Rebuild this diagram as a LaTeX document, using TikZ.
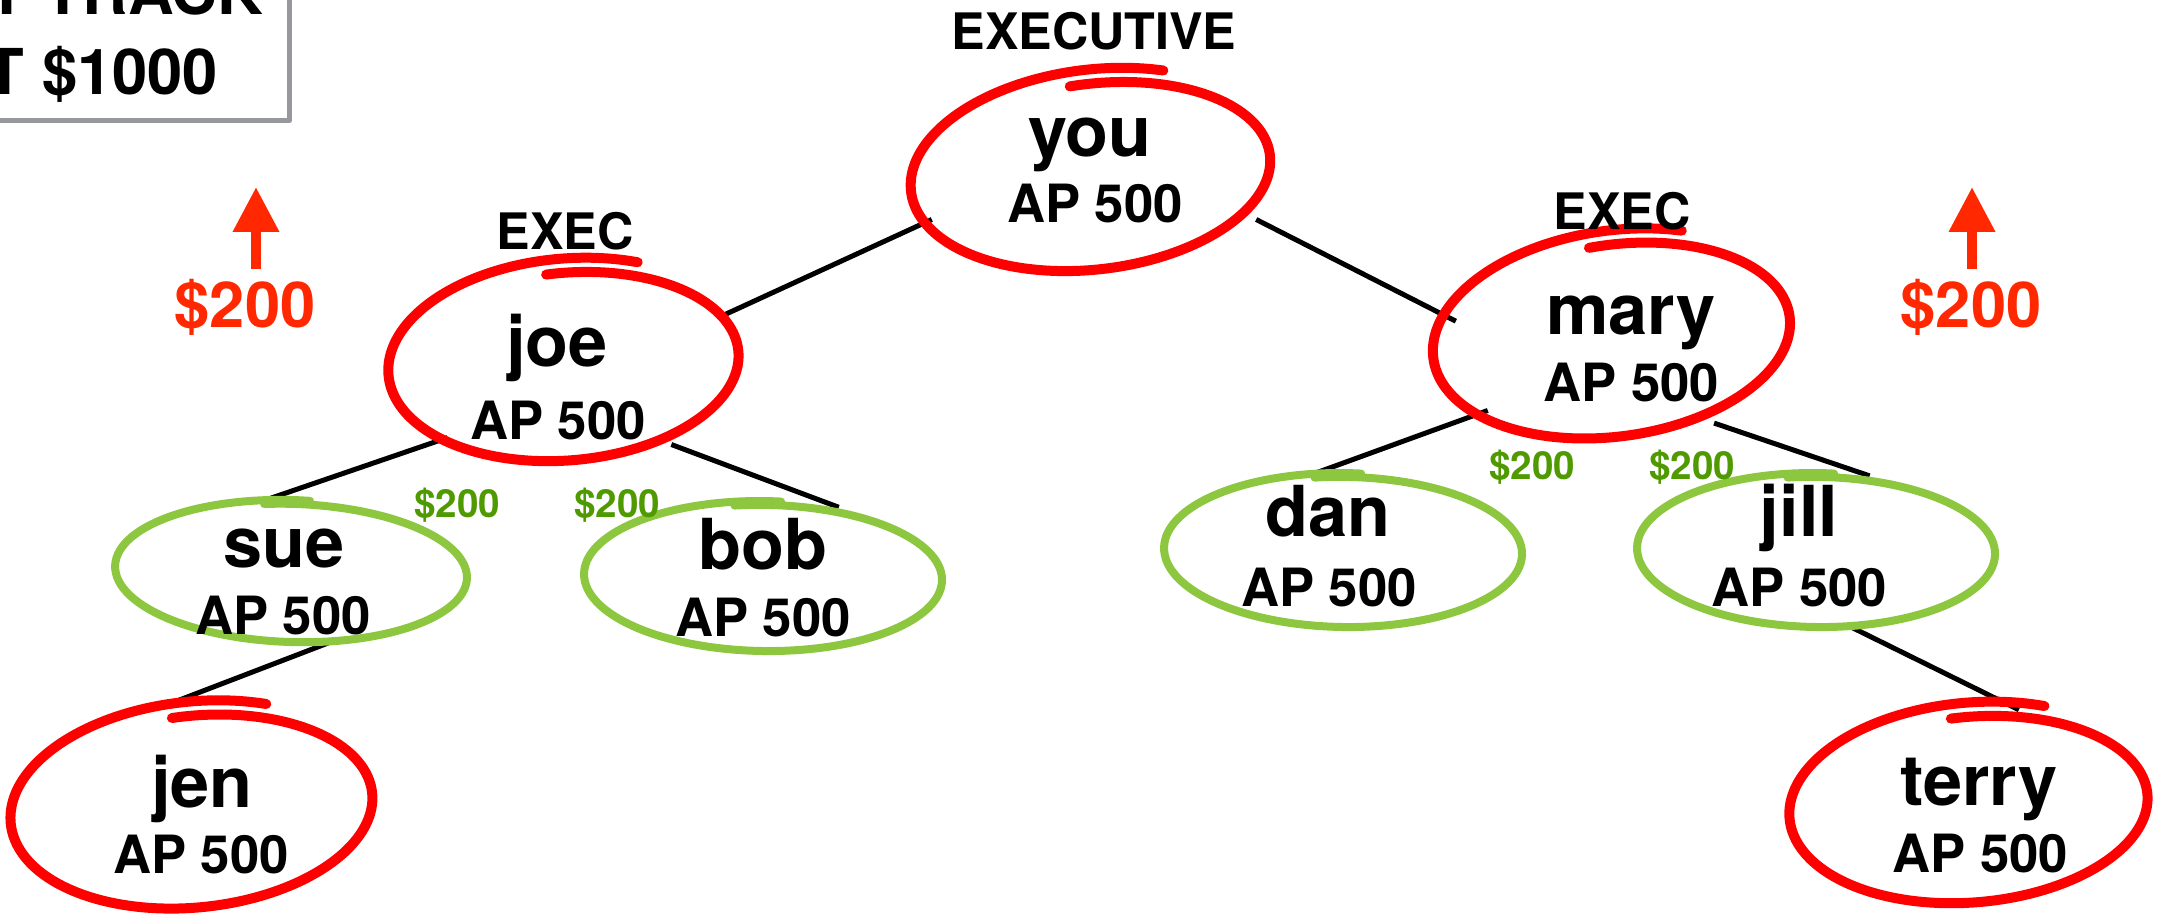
\documentclass[tikz,border=0pt]{standalone}
\usepackage{fontspec}
\setmainfont{TeX Gyre Heros}
\usetikzlibrary{shapes.geometric,arrows.meta}
\definecolor{ringred}{RGB}{255,0,0}
\definecolor{ringgreen}{RGB}{141,198,63}
\definecolor{cashgreen}{RGB}{78,154,0}
\definecolor{bonusred}{RGB}{255,40,0}
\definecolor{framegray}{RGB}{150,152,156}

\begin{document}
\begin{tikzpicture}[line join=round,line width=0.05cm,>=latex,
  spot/.style={ellipse,inner sep=0pt},
  who/.style={font=\fontsize{20}{24}\selectfont\bfseries,anchor=base,inner sep=0pt},
  ap/.style={font=\fontsize{15}{18}\selectfont\bfseries,anchor=base,inner sep=0pt},
  rank/.style={font=\fontsize{14.3}{17}\selectfont\bfseries,anchor=base,inner sep=0pt},
  gain/.style={font=\fontsize{11}{13}\selectfont\bfseries,text=cashgreen,anchor=base,inner sep=0pt},
  bonus/.style={font=\fontsize{18}{22}\selectfont\bfseries,text=bonusred,anchor=base,inner sep=0pt},
  goal/.style={font=\fontsize{18}{22}\selectfont\bfseries,anchor=base east,inner sep=0pt},
  redpen/.style={draw=ringred,line width=0.1cm,line cap=round},
  greenpen/.style={draw=ringgreen,line width=0.08cm,line cap=round}]
\useasboundingbox (0,0) rectangle (21.6,-9.22);
\clip (0,0) rectangle (21.6,-9.22);

% target box, cut by the page
\draw[framegray,line width=0.05cm,fill=white] (-0.5,0.5) rectangle (2.895,-1.205);
\node[goal] (track) at (2.655,-0.15) {T TRACK};
\node[goal] (cost) at (2.205,-0.95) {T \$1000};

% ring spots
\node[spot,minimum width=3.62cm,minimum height=1.94cm] (you) at (10.94,-1.73) {};
\node[spot,minimum width=3.52cm,minimum height=1.96cm] (joe) at (5.67,-3.63) {};
\node[spot,minimum width=3.60cm,minimum height=2.00cm] (mary) at (16.15,-3.37) {};
\node[spot,minimum width=3.52cm,minimum height=1.40cm] (sue) at (2.92,-5.72) {};
\node[spot,minimum width=3.58cm,minimum height=1.48cm] (bob) at (7.64,-5.77) {};
\node[spot,minimum width=3.58cm,minimum height=1.52cm] (dan) at (13.44,-5.51) {};
\node[spot,minimum width=3.58cm,minimum height=1.52cm] (jill) at (18.17,-5.51) {};
\node[spot,minimum width=3.64cm,minimum height=2.00cm] (jen) at (1.95,-8.08) {};
\node[spot,minimum width=3.60cm,minimum height=1.94cm] (terry) at (19.72,-8.06) {};

% tree
\draw (you.196) -- (joe.17);
\draw[shorten >=-0.2cm] (you.344) -- (mary.172);
\draw (joe.212) -- (sue.111);
\draw (joe.322) -- (bob.43);
\draw (mary.210) -- (dan.111);
\draw (mary.319) -- (jill.55);
\draw (sue.297) -- (jen.109);
\draw (jill.295) -- (terry.64);

% hand drawn rings
\foreach \n/\rx/\ry/\rot in {you/1.81/.97/6,joe/1.76/.98/4,mary/1.80/1.00/7,jen/1.82/1.00/5,terry/1.80/.97/4}
  \draw[redpen,shift={(\n.center)},rotate=\rot] plot[domain=95:-295,samples=120,smooth]
    ({(\rx-.08+.0004*(95-\x))*cos(\x)},{(\ry-.08+.0004*(95-\x))*sin(\x)});
\foreach \n/\rx/\ry/\rot in {sue/1.76/.70/-2,bob/1.79/.74/-1,dan/1.79/.76/-1,jill/1.79/.76/-1}
  \draw[greenpen,shift={(\n.center)},rotate=\rot] plot[domain=100:-275,samples=120,smooth]
    ({(\rx-.02+.0001*(100-\x))*cos(\x)},{(\ry-.02+.0001*(100-\x))*sin(\x)});

% names
\node[who] (you-n) at (10.90,-1.57) {you};
\node[ap] (you-ap) at (10.95,-2.23) {AP 500};
\node[who] (joe-n) at (5.57,-3.67) {joe};
\node[ap] (joe-ap) at (5.58,-4.40) {AP 500};
\node[who] (mary-n) at (16.31,-3.35) {mary};
\node[ap] (mary-ap) at (16.31,-4.02) {AP 500};
\node[who] (sue-n) at (2.84,-5.68) {sue};
\node[ap] (sue-ap) at (2.83,-6.35) {AP 500};
\node[who] (bob-n) at (7.63,-5.70) {bob};
\node[ap] (bob-ap) at (7.63,-6.37) {AP 500};
\node[who] (dan-n) at (13.28,-5.37) {dan};
\node[ap] (dan-ap) at (13.29,-6.07) {AP 500};
\node[who] (jill-n) at (17.99,-5.37) {jill};
\node[ap] (jill-ap) at (17.99,-6.07) {AP 500};
\node[who] (jen-n) at (2.02,-8.07) {jen};
\node[ap] (jen-ap) at (2.01,-8.73) {AP 500};
\node[who] (terry-n) at (19.79,-8.05) {terry};
\node[ap] (terry-ap) at (19.80,-8.72) {AP 500};

% ranks
\node[rank] (top) at (10.94,-0.50) {EXECUTIVE};
\node[rank] (joe-r) at (5.65,-2.50) {EXEC};
\node[rank] (mary-r) at (16.22,-2.30) {EXEC};

% payouts
\node[gain] (g1) at (4.57,-5.18) {\$200};
\node[gain] (g2) at (6.17,-5.18) {\$200};
\node[gain] (g3) at (15.32,-4.80) {\$200};
\node[gain] (g4) at (16.92,-4.80) {\$200};

\node[bonus] (lb) at (2.45,-3.28) {\$200};
\node[bonus] (rb) at (19.71,-3.28) {\$200};
\coordinate (lb0) at (2.56,-2.69);
\coordinate (lb1) at (2.56,-1.87);
\coordinate (rb0) at (19.72,-2.69);
\coordinate (rb1) at (19.72,-1.87);
\draw[bonusred,line width=0.1cm,-{Triangle[length=0.45cm,width=0.44cm]}] (lb0) -- (lb1);
\draw[bonusred,line width=0.1cm,-{Triangle[length=0.45cm,width=0.44cm]}] (rb0) -- (rb1);
\end{tikzpicture}
\end{document}
